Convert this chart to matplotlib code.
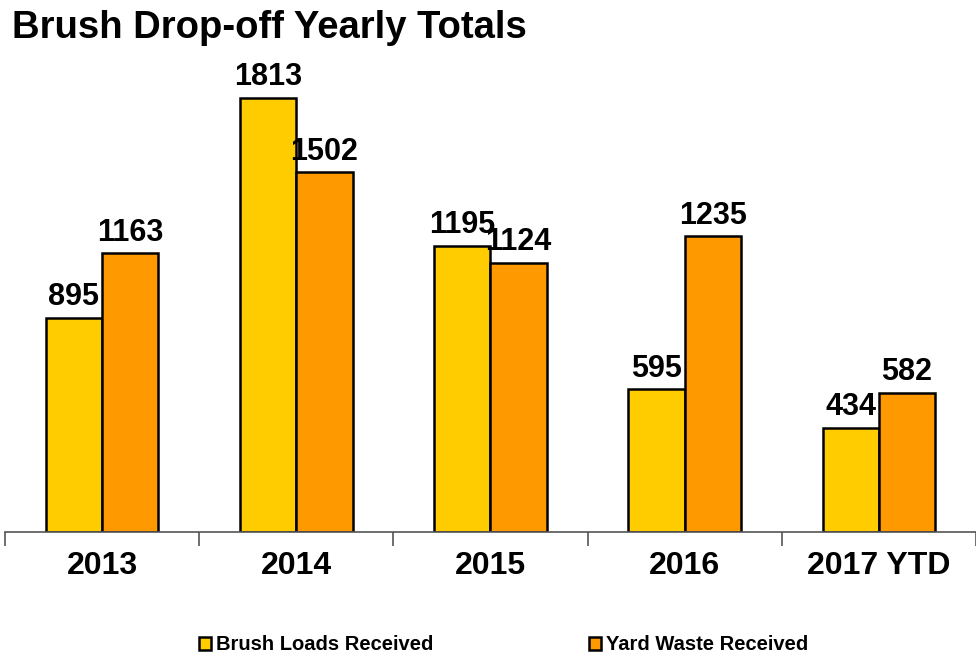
import numpy as np
import matplotlib
matplotlib.use("Agg")
import matplotlib.pyplot as plt

plt.rcParams['font.family'] = ['Liberation Sans', 'DejaVu Sans']

years = ["2013", "2014", "2015", "2016", "2017 YTD"]
brush_loads = [895, 1813, 1195, 595, 434]
yard_waste = [1163, 1502, 1124, 1235, 582]

fig = plt.figure(figsize=(9.76, 6.6), dpi=100)
ax = fig.add_axes([0.005, 0.194, 0.995, 0.726])

x = np.arange(len(years))
w = 0.29
b1 = ax.bar(x - w / 2, brush_loads, w, color='#FFCC00', edgecolor='black',
            linewidth=1.8, label='Brush Loads Received')
b2 = ax.bar(x + w / 2, yard_waste, w, color='#FF9900', edgecolor='black',
            linewidth=1.8, label='Yard Waste Received')

for bars in (b1, b2):
    ax.bar_label(bars, padding=4, fontsize=22, fontweight='bold')

ax.set_xlim(-0.5, len(years) - 0.5)
ax.set_ylim(0, 2000)
ax.set_xticks(x)
ax.set_xticklabels(years, fontsize=23, fontweight='bold')
ax.set_xticks(np.arange(len(years) + 1) - 0.5, minor=True)
ax.tick_params(axis='x', which='major', length=0, pad=14)
ax.tick_params(axis='x', which='minor', length=10, color='#555555', width=1.2)
ax.set_yticks([])
for s in ['top', 'right', 'left']:
    ax.spines[s].set_visible(False)
ax.spines['bottom'].set_color('#555555')
ax.spines['bottom'].set_linewidth(1.2)

fig.text(0.012, 0.958, "Brush Drop-off Yearly Totals", fontsize=27.5,
         fontweight='bold', va='center', ha='left')

fig.legend(loc='center', bbox_to_anchor=(0.516, 0.023), ncol=2, frameon=False,
           prop={'size': 14.5, 'weight': 'bold'}, columnspacing=7.75,
           handlelength=0.6, handleheight=0.6, handletextpad=0.25)

fig.savefig("out.png", dpi=100)
